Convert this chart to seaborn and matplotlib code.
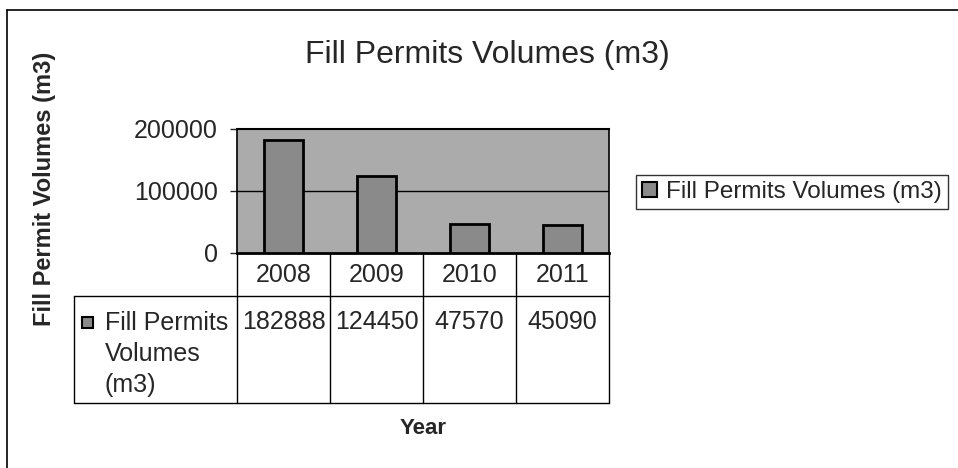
import matplotlib
matplotlib.use("Agg")
import matplotlib.pyplot as plt
import matplotlib.transforms as mtransforms
from matplotlib.lines import Line2D
from matplotlib.patches import Patch, Rectangle
import seaborn as sns
import pandas as pd

# data
years = ["2008", "2009", "2010", "2011"]
volumes = [182888, 124450, 47570, 45090]
series_name = "Fill Permits Volumes (m3)"
row_label = "Fill Permits\nVolumes\n(m3)"
title = "Fill Permits Volumes (m3)"
y_label = "Fill Permit Volumes (m3)"
x_label = "Year"
y_ticks = [0, 100000, 200000]

df = pd.DataFrame({"year": years, "volume": volumes})

sns.set_style("white")
plt.rcParams["font.family"] = ["Liberation Sans", "DejaVu Sans"]

W, H = 958, 468
fig = plt.figure(figsize=(W / 100, H / 100), dpi=100)


def fx(px):
    return px / W


def fy(py):
    return 1 - py / H


bg_color = "#ababab"
bar_color = "#8a8a8a"

# plot area: x 237..609, y 129..253 (pixels)
ax = fig.add_axes([fx(237), fy(253), fx(609) - fx(237), fy(129) - fy(253)])
ax.set_facecolor(bg_color)

sns.barplot(data=df, x="year", y="volume", color=bar_color, saturation=1,
            edgecolor="black", linewidth=2, width=0.43, ax=ax, zorder=3)

ax.set_xlim(-0.5, len(years) - 0.5)
ax.set_ylim(0, max(y_ticks))
ax.set_yticks(y_ticks)
ax.set_yticklabels([str(v) for v in y_ticks], fontsize=18)
ax.set_xticks([])
ax.set_xlabel("")
ax.set_ylabel("")
ax.tick_params(axis="y", direction="out", length=5, width=1, pad=9, left=True)
ax.axhline(100000, color="black", lw=1, zorder=2)
for side, lw in [("left", 1.2), ("top", 1.5), ("right", 1.2), ("bottom", 2)]:
    ax.spines[side].set_visible(True)
    ax.spines[side].set_color("black")
    ax.spines[side].set_linewidth(lw)

# data table under the plot
trans = mtransforms.blended_transform_factory(ax.transData, ax.transAxes)
ax_h = 253 - 129
head_bot = -(296 - 253) / ax_h
tab_bot = -(403 - 253) / ax_h
px_per_unit = (609 - 237) / len(years)
label_left = -0.5 - (237 - 74) / px_per_unit

edges = [i - 0.5 for i in range(len(years) + 1)]
for e in edges:
    ax.add_line(Line2D([e, e], [0, tab_bot], transform=trans, color="black",
                       lw=1, clip_on=False))
ax.add_line(Line2D([label_left, label_left], [head_bot, tab_bot], transform=trans,
                   color="black", lw=1, clip_on=False))
for yy in [head_bot, tab_bot]:
    ax.add_line(Line2D([label_left, edges[-1]], [yy, yy], transform=trans,
                       color="black", lw=1, clip_on=False))

for i, (yr, v) in enumerate(zip(years, volumes)):
    ax.text(i, head_bot / 2, yr, transform=trans, ha="center", va="center",
            fontsize=18)
    ax.text(i, -(322 - 253) / ax_h, str(v), transform=trans, ha="center",
            va="center", fontsize=18)

fig.text(fx(105), fy(354), row_label, ha="left", va="center", fontsize=18,
         linespacing=1.35)
fig.add_artist(Rectangle((fx(82), fy(328)), fx(11), 11 / H, facecolor=bar_color,
                         edgecolor="black", lw=1.5, transform=fig.transFigure))

# titles
fig.text(fx(487), fy(55), title, ha="center", va="center", fontsize=23)
fig.text(fx(45), fy(189), y_label, ha="center", va="center", rotation=90,
         fontsize=17, fontweight="bold")
fig.text(fx(423), fy(428), x_label, ha="center", va="center", fontsize=16,
         fontweight="bold")

# legend
handle = Patch(facecolor=bar_color, edgecolor="black", lw=1.5)
leg = fig.legend([handle], [series_name], loc="center",
                 bbox_to_anchor=(fx(792), fy(192)), fontsize=17.5,
                 frameon=True, fancybox=False, edgecolor="black",
                 handlelength=0.6, handleheight=0.6, handletextpad=0.4,
                 borderpad=0.25, borderaxespad=0)
leg.get_frame().set_linewidth(1)

# outer chart frame
fig.add_artist(Line2D([fx(7), fx(7)], [fy(10), 0], color="black", lw=1.2,
                      transform=fig.transFigure))
fig.add_artist(Line2D([fx(7), 1], [fy(10), fy(10)], color="black", lw=1.2,
                      transform=fig.transFigure))

fig.savefig("out.png", dpi=100)
